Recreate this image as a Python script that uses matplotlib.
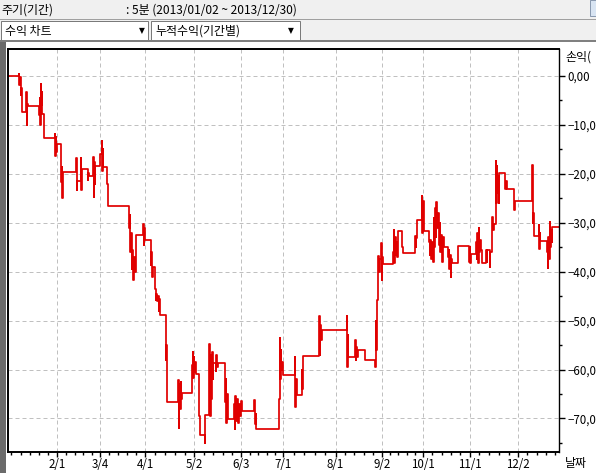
import matplotlib
matplotlib.use('Agg')
import matplotlib.pyplot as plt
from matplotlib.patches import Rectangle
from matplotlib.lines import Line2D

plt.rcParams['font.family'] = ['Noto Sans CJK KR', 'DejaVu Sans']

# cumulative return (%) per trading day index, 5 min bars, 2013/01/02 ~ 2013/12/30
days = [
    0.0, 5.0, 5.2, 5.4, 5.7, 6.0, 6.2, 6.5,
    8.3, 8.5, 8.7, 9.0,
    14.2, 14.4, 14.6, 14.9, 15.1, 15.3, 15.6, 16.5,
    21.3, 21.5, 21.8, 22.0, 22.3,
    23.9, 24.1, 24.4, 24.6, 24.9,
    30.9, 31.1, 31.3, 31.5, 33.1, 33.3, 33.6,
    36.3, 36.5, 36.8, 38.6, 38.8, 39.0, 39.3, 39.6,
    41.7, 42.5, 42.7, 43.0, 43.3,
    44.9, 45.2,
    54.9, 55.2, 55.5, 55.8, 56.1, 56.4, 56.8, 57.1, 57.5, 57.9, 58.2,
    61.3, 61.6, 61.9, 62.2,
    64.7, 65.0, 65.3, 65.6,
    66.7, 67.0, 67.3, 67.6, 68.0, 68.3, 68.6, 68.9,
    71.6, 71.8, 72.0, 72.2,
    77.3, 77.5, 77.8, 78.1, 78.4, 78.7, 78.9,
    83.6, 83.8, 84.0, 84.3, 84.6, 84.9, 85.3,
    86.8, 87.0, 89.4, 89.6,
    91.2, 91.4, 91.7, 91.9, 92.2, 92.5, 92.8, 93.0,
    94.4, 94.6, 94.9, 95.2,
    98.6, 98.8, 99.1, 99.4, 99.7, 100.0,
    102.5, 102.8, 103.2, 103.6, 104.0, 104.4, 104.8, 105.2, 105.6, 106.0,
    111.8, 112.0, 112.3, 112.5,
    123.0, 123.2, 123.5, 123.7, 124.0, 124.4, 124.8,
    130.2, 130.4, 130.7, 131.0,
    133.3, 133.5, 133.8,
    141.2, 141.4, 141.7, 142.0, 142.3,
    153.7, 153.9, 154.1, 154.4,
    157.4, 157.7, 158.0, 158.4, 158.8, 162.0,
    166.5, 166.8, 167.1, 167.4, 167.7, 168.0, 168.3, 168.7, 169.2, 169.5, 169.8, 170.1,
    174.7, 175.0, 175.3, 175.6, 175.9, 176.2, 176.5, 176.8, 177.1,
    178.8, 179.0,
    184.7, 184.9, 185.1, 185.7,
    187.8, 188.0, 188.3, 188.6, 188.9,
    191.0, 191.3, 191.6, 192.0, 192.4, 192.8, 193.2, 193.5, 193.8, 194.1,
    194.4, 194.7, 195.0, 195.4, 195.8, 196.2, 196.6, 197.0, 197.4, 197.8,
    199.6, 199.9, 200.2, 200.5, 200.8, 201.1, 201.4,
    204.3,
    209.2, 209.4, 209.7, 210.0,
    212.3, 212.6, 212.9, 213.2, 213.5, 213.8, 214.1, 214.4, 215.1,
    216.9, 217.2, 217.5, 218.7, 218.9,
    219.5, 219.8, 220.1, 220.4,
    221.4, 221.6, 221.8, 222.0, 222.3, 222.6, 222.9,
    225.5, 225.7, 226.0, 226.3,
    229.6, 229.8, 230.1,
    237.9, 238.1, 238.3, 238.6,
    240.8, 241.0, 241.3, 241.6,
    244.7, 244.9, 245.2, 245.5, 245.8, 246.1, 246.4, 246.7, 247.0, 250.0,
]
pnl = [
    0.0, 0.5, -1.8, -0.3, -3.9, -2.5, -6.3, -7.4,
    -3.3, -10.1, -5.8, -6.2,
    -8.0, -4.5, -10.0, -1.6, -6.0, -3.2, -7.8, -12.7,
    -11.9, -16.3, -12.5, -15.5, -14.0,
    -17.5, -21.6, -18.6, -24.9, -19.7,
    -16.8, -23.4, -17.5, -21.5, -16.8, -23.4, -19.0,
    -21.3, -19.8, -20.5, -16.6, -24.7, -17.5, -22.0, -18.5,
    -16.0, -13.3, -19.5, -15.0, -18.7,
    -22.0, -26.6,
    -31.0, -28.5, -36.0, -32.0, -39.5, -35.5, -41.7, -37.0, -40.0, -34.5, -32.5,
    -30.3, -34.5, -31.0, -33.5,
    -38.6, -36.0, -41.0, -39.0,
    -43.5, -45.8, -44.5, -46.0, -45.0, -48.0, -45.5, -48.8,
    -58.0, -55.0, -58.9, -66.7,
    -62.1, -71.9, -63.0, -68.0, -62.5, -66.0, -64.9,
    -59.0, -56.5, -61.7, -57.5, -60.5, -58.5, -61.0,
    -69.6, -73.4, -75.1, -69.3,
    -63.0, -54.7, -69.6, -57.0, -66.0, -56.5, -62.0, -58.7,
    -60.4, -57.0, -59.5, -58.7,
    -66.6, -62.0, -71.0, -65.0, -69.0, -70.1,
    -67.0, -72.1, -65.4, -70.5, -66.0, -71.0, -67.0, -69.5, -66.5, -68.5,
    -66.2, -71.1, -69.0, -72.1,
    -66.0, -53.6, -62.0, -56.0, -60.0, -58.5, -61.2,
    -57.4, -67.7, -62.0, -65.3,
    -60.0, -64.0, -57.2,
    -49.0, -57.0, -51.0, -54.0, -52.0,
    -49.0, -59.4, -53.0, -57.4,
    -54.0, -58.0, -55.5, -57.5, -56.0, -58.0,
    -59.5, -50.0, -56.0, -45.8, -43.0, -36.8, -40.0, -37.5, -34.2, -41.7, -37.0, -38.5,
    -36.0, -31.5, -38.2, -33.0, -36.5, -34.0, -37.0, -34.5, -31.7,
    -35.0, -36.1,
    -32.7, -35.0, -33.2, -29.4,
    -24.5, -32.2, -25.5, -30.0, -31.7,
    -34.0, -36.5, -33.5, -37.5, -34.0, -38.0, -29.0, -35.0, -27.0, -33.0,
    -25.7, -31.0, -28.0, -34.5, -30.0, -36.0, -32.5, -38.0, -33.0, -35.0,
    -37.0, -35.5, -39.5, -36.5, -41.1, -37.5, -38.2,
    -34.7,
    -38.0, -35.0, -38.2, -36.4,
    -34.0, -37.5, -32.0, -38.2, -31.0, -36.0, -33.5, -35.5, -38.2,
    -35.6, -38.0, -35.6, -39.0, -36.0,
    -33.0, -28.8, -31.5, -30.2,
    -17.4, -26.0, -18.5, -24.0, -20.5, -26.0, -19.9,
    -21.0, -23.2, -21.5, -23.2,
    -25.0, -27.4, -25.5,
    -18.3, -30.0, -28.0, -32.7,
    -30.5, -35.4, -32.0, -33.7,
    -36.0, -39.2, -33.0, -37.5, -29.8, -35.0, -31.5, -34.0, -30.9, -30.9,
]

month_pos = [22.4, 41.9, 62.3, 84.6, 105.9, 124.9, 148.6, 169.8, 188.2, 209.5, 231.5]
month_labels = ['2/1', '3/4', '4/1', '5/2', '6/3', '7/1', '8/1', '9/2', '10/1', '11/1', '12/2']
ytick_vals = [0, -10, -20, -30, -40, -50, -60, -70]
ytick_labels = ['0,00', '−10,0', '−20,0', '−30,0', '−40,0', '−50,0', '−60,0', '−70,0']

W, H = 596, 473
fig = plt.figure(figsize=(W / 100, H / 100), dpi=100)


def fx(x):
    return x / W


def fy(y):
    return 1 - y / H


# ---- window header (period + two combo boxes)
fig.add_artist(Rectangle((0, fy(41)), 1, 41 / H, transform=fig.transFigure,
                         facecolor='#f0f0f0', edgecolor='none'))
fig.add_artist(Line2D([0, 1], [fy(19)] * 2, transform=fig.transFigure, color='#a0a0a0', lw=0.72))
fig.add_artist(Rectangle((fx(1), fy(40)), 147 / W, 19 / H, transform=fig.transFigure,
                         facecolor='white', edgecolor='#7a7a7a', lw=0.72))
fig.add_artist(Rectangle((fx(151), fy(40)), 149 / W, 19 / H, transform=fig.transFigure,
                         facecolor='white', edgecolor='#7a7a7a', lw=0.72))
fig.add_artist(Rectangle((fx(590), fy(16)), 6 / W, 16 / H, transform=fig.transFigure,
                         facecolor='#d8e4f2', edgecolor='#8a9ab0', lw=0.72))
fig.add_artist(Line2D([0, 1], [fy(41.5)] * 2, transform=fig.transFigure, color='#808080', lw=1.44))
fig.add_artist(Rectangle((0, 0), 6 / W, fy(42.5), transform=fig.transFigure,
                         facecolor='#6b6b6b', edgecolor='none'))

fig.text(fx(1.5), fy(10), '주기(기간)', ha='left', va='center', fontsize=8.6)
fig.text(fx(126), fy(10), ': 5분 (2013/01/02 ~ 2013/12/30)', ha='left', va='center', fontsize=8.6)
fig.text(fx(5), fy(31), '수익 차트', ha='left', va='center', fontsize=8.6)
fig.text(fx(155), fy(31), '누적수익(기간별)', ha='left', va='center', fontsize=8.6)
fig.text(fx(141.5), fy(31), '▼', ha='center', va='center', fontsize=5.5, family='DejaVu Sans')
fig.text(fx(291), fy(31), '▼', ha='center', va='center', fontsize=5.5, family='DejaVu Sans')

# ---- chart
ax = fig.add_axes([fx(8), fy(451.7), (559 - 8) / W, (451.7 - 49.3) / H])
ax.plot(days, pnl, drawstyle='steps-post', color='#e00000', lw=1.25)

ax.set_xlim(0, 250)
ax.set_ylim(-76.8, 5.45)

ax.yaxis.tick_right()
ax.set_yticks(ytick_vals)
ax.set_yticklabels(ytick_labels)
ax.set_yticks([v - 5 for v in ytick_vals], minor=True)
ax.tick_params(axis='y', which='major', length=4.3, width=1, pad=1.5, labelsize=8.3)
ax.tick_params(axis='y', which='minor', length=2.5, width=1)

ax.set_xticks(month_pos)
ax.set_xticklabels(month_labels)
step = (month_pos[-1] - month_pos[0]) / (len(month_pos) - 1) / 5
minor_x = []
for a, b in zip(month_pos[:-1], month_pos[1:]):
    minor_x += [a + (b - a) * k / 5 for k in range(1, 5)]
p = month_pos[0] - step
while p > 0.5:
    minor_x.append(p)
    p -= step
p = month_pos[-1] + step
while p < 249.5:
    minor_x.append(p)
    p += step
ax.set_xticks(minor_x, minor=True)
ax.tick_params(axis='x', which='major', length=3.6, width=1, pad=1, labelsize=8.3)
ax.tick_params(axis='x', which='minor', length=2.4, width=1)

ax.grid(True, which='major', color='#c0c0c0', linestyle=(0, (4, 3)), linewidth=0.72)
for side in ['top', 'left', 'bottom']:
    ax.spines[side].set_linewidth(1.4)
ax.spines['right'].set_linewidth(1.0)

# axis captions, cut by the window edge in the original as well
fig.text(fx(565), fy(57), '손익(', ha='left', va='center', fontsize=8.6)
fig.text(fx(565), fy(463), '날짜', ha='left', va='center', fontsize=8.6)

fig.savefig('out.png', dpi=100)
